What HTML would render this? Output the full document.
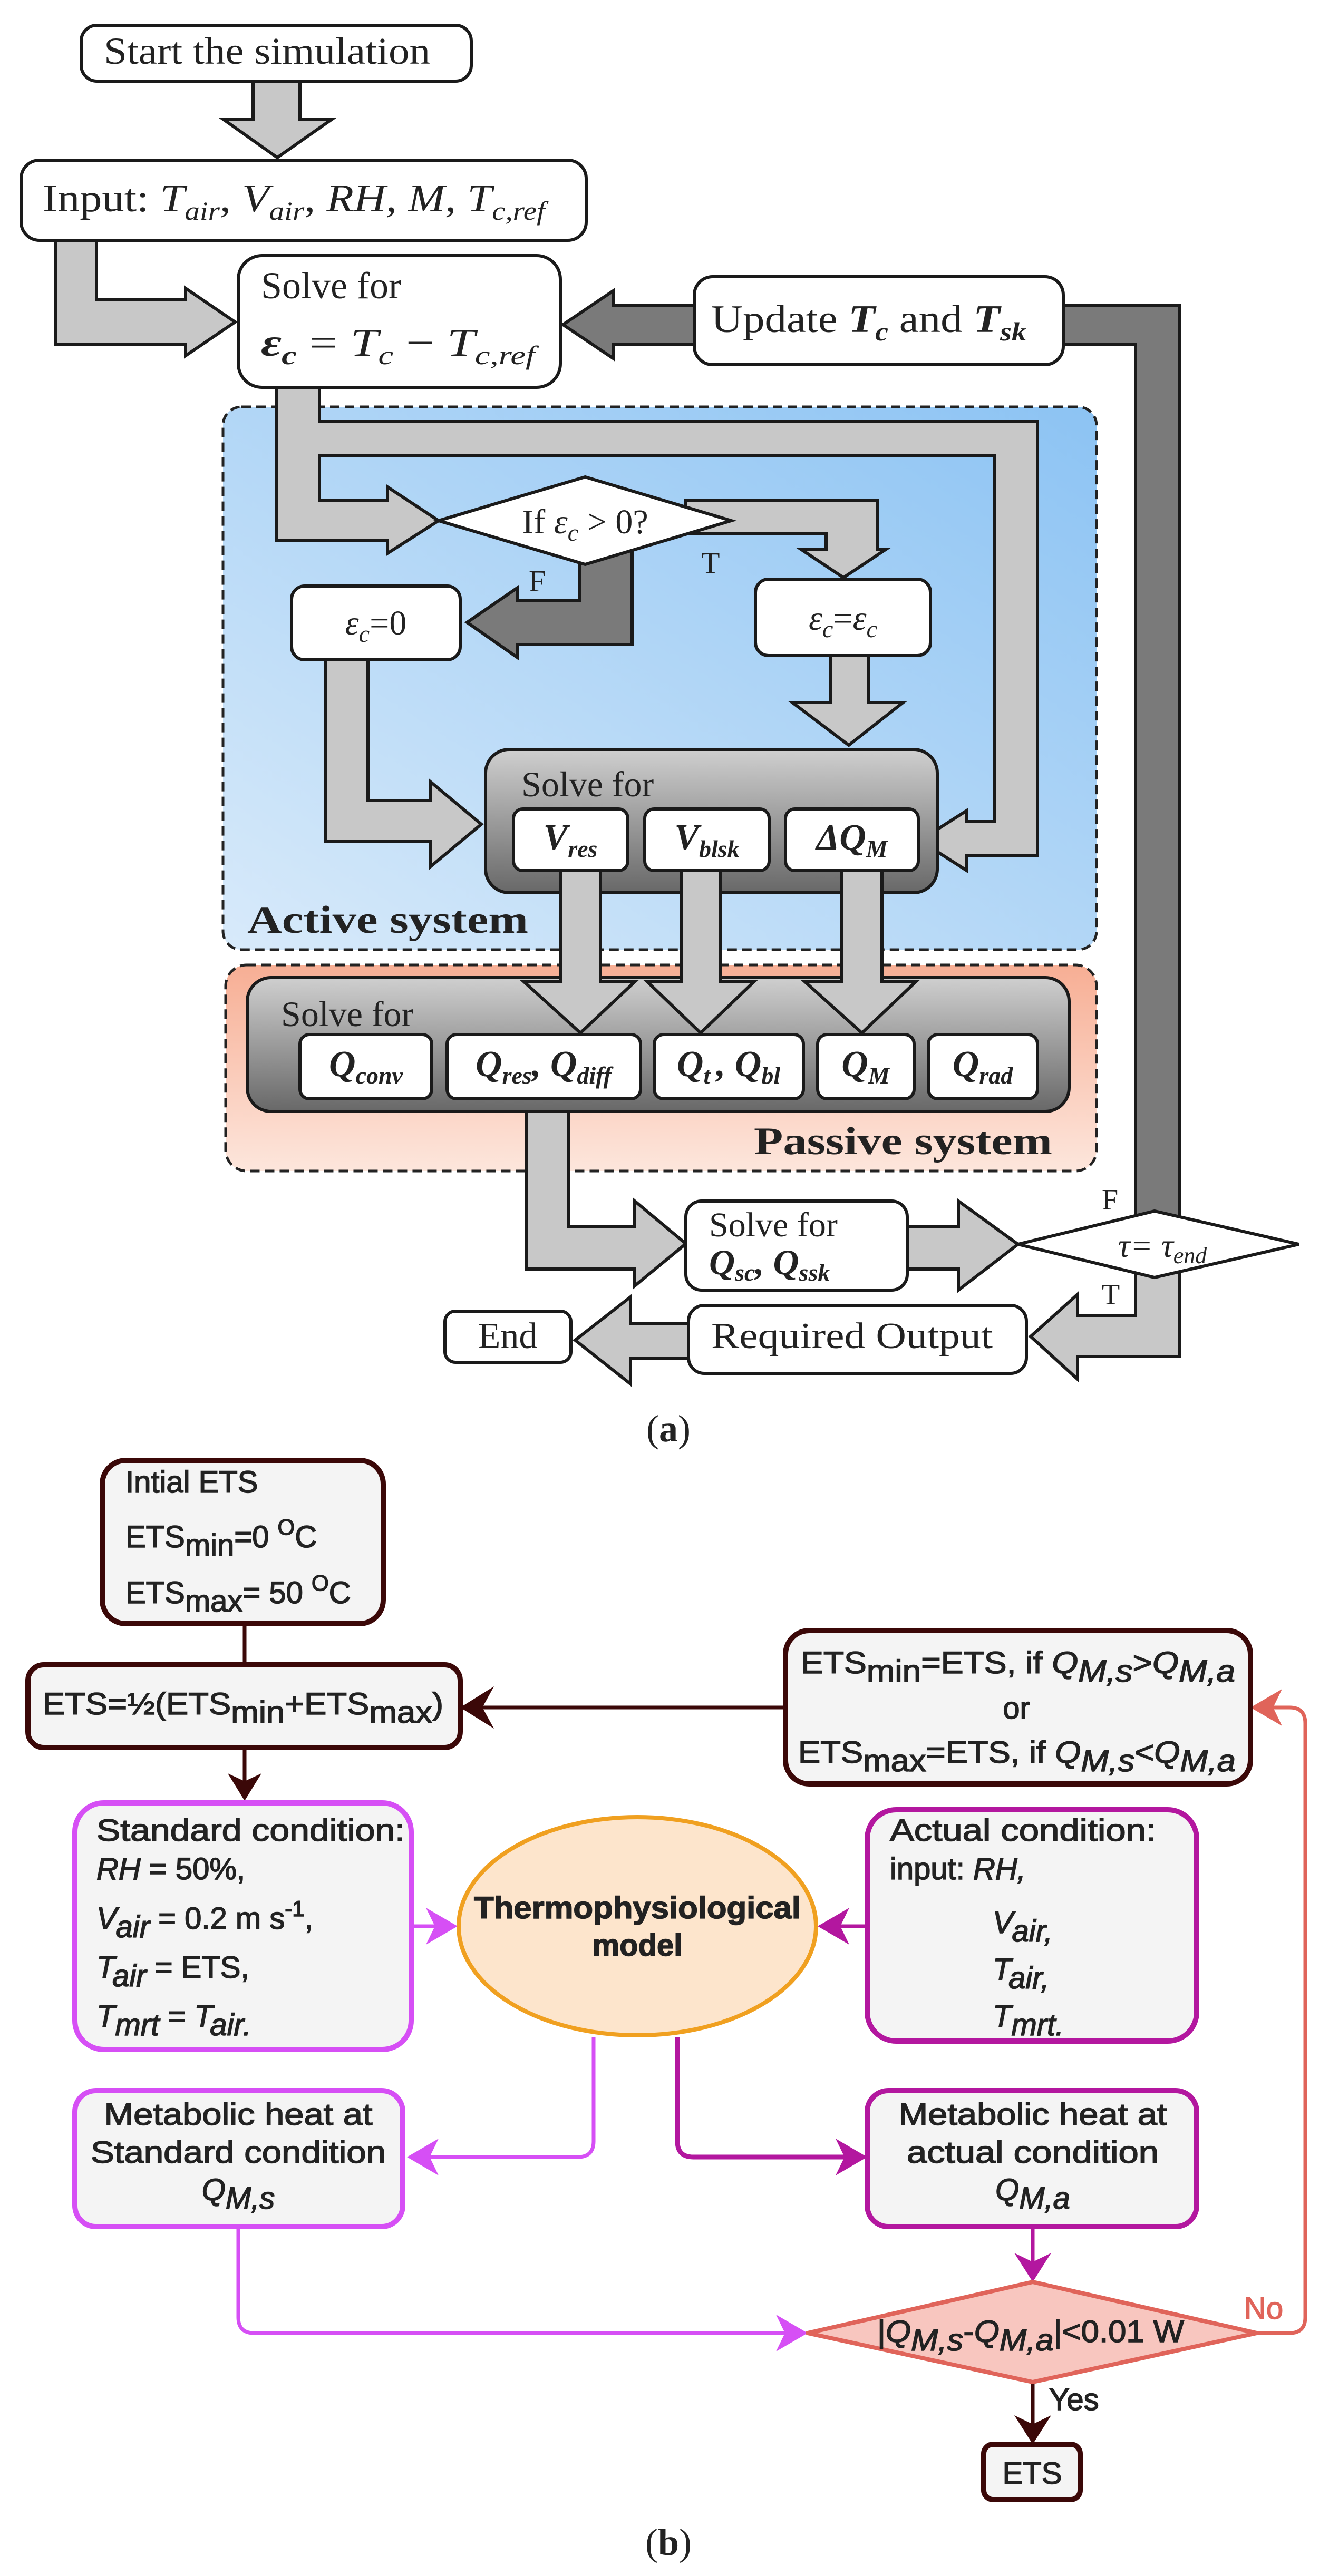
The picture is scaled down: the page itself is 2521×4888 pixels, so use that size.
<!DOCTYPE html>
<html><head><meta charset="utf-8"><style>
html,body{margin:0;padding:0;background:#fff}
svg{display:block}
.s{font-family:"Liberation Serif",serif}
.a{font-family:"Liberation Sans",sans-serif}
</style></head><body>
<svg width="2521" height="4888" viewBox="0 0 2521 4888" xmlns="http://www.w3.org/2000/svg">
<defs>
<linearGradient id="blue" x1="0" y1="1" x2="1" y2="0"><stop offset="0" stop-color="#d8eafa"/><stop offset="1" stop-color="#8cc3f3"/></linearGradient>
<linearGradient id="pink" x1="0" y1="0" x2="0" y2="1"><stop offset="0" stop-color="#f7ae94"/><stop offset="1" stop-color="#fde6dc"/></linearGradient>
<linearGradient id="gray" x1="0" y1="0" x2="0" y2="1"><stop offset="0" stop-color="#cfcfcf"/><stop offset="1" stop-color="#686868"/></linearGradient>
</defs>

<!-- ===== (a) ===== -->
<g class="s" fill="#222">
<rect x="423" y="772" width="1657" height="1030" rx="35" fill="url(#blue)" stroke="#222" stroke-width="5" stroke-dasharray="18 10"/>
<rect x="428" y="1831" width="1652" height="391" rx="40" fill="url(#pink)" stroke="#222" stroke-width="5" stroke-dasharray="18 10"/>

<g stroke="#1a1a1a" stroke-width="6" stroke-linejoin="miter">
<polygon fill="#c8c8c8" points="480,154 569,154 569,226 630,226 526,299 423,226 480,226"/>
<polygon fill="#c8c8c8" points="105,456 105,654 352,654 352,675 446,611 352,547 352,569 183,569 183,456"/>
<polygon fill="#7a7a7a" points="1317,579 1163,579 1163,552 1068,616 1163,680 1163,654 1317,654"/>
<polygon fill="#7a7a7a" points="2017,579 2238,579 2238,2320 2154,2320 2154,654 2017,654"/>
<polygon fill="#c8c8c8" points="525,735 525,1026 735,1026 735,1050 832,988 735,924 735,950 606,950 606,865 1887,865 1887,1559 1834,1559 1834,1538 1745,1595 1834,1652 1834,1624 1968,1624 1968,800 606,800 606,735"/>
<polygon fill="#c8c8c8" points="1300,950 1664,950 1664,1042 1681,1042 1600,1096 1519,1042 1567,1042 1567,1013 1300,1013"/>
<polygon fill="#7a7a7a" points="1099,1060 1099,1139 982,1139 982,1115 886,1181 982,1248 982,1223 1199,1223 1199,1040"/>
<polygon fill="#c8c8c8" points="1576,1244 1648,1244 1648,1333 1713,1333 1610,1414 1503,1333 1576,1333"/>
<polygon fill="#c8c8c8" points="617,1252 617,1597 816,1597 816,1645 913,1564 816,1483 816,1519 698,1519 698,1252"/>
<polygon fill="#c8c8c8" points="999,2109 999,2408 1204,2408 1204,2440 1301,2360 1204,2279 1204,2327 1079,2327 1079,2109"/>
<polygon fill="#c8c8c8" points="1721,2327 1818,2327 1818,2279 1931,2361 1818,2448 1818,2408 1721,2408"/>
<polygon fill="#c8c8c8" points="2154,2410 2154,2496 2044,2496 2044,2456 1955,2536 2044,2617 2044,2574 2238,2574 2238,2400"/>
<polygon fill="#c8c8c8" points="1306,2512 1196,2512 1196,2461 1091,2543 1196,2626 1196,2577 1306,2577"/>
</g>

<g fill="#fff" stroke="#1a1a1a" stroke-width="6">
<rect x="154" y="48" width="740" height="106" rx="30"/>
<rect x="40" y="304" width="1072" height="152" rx="35"/>
<rect x="452" y="485" width="611" height="250" rx="45"/>
<rect x="1317" y="525" width="700" height="167" rx="35"/>
<polygon points="832,988 1110,905 1387,988 1110,1071"/>
<rect x="553" y="1112" width="320" height="140" rx="25"/>
<rect x="1433" y="1099" width="332" height="145" rx="25"/>
<rect x="921" y="1422" width="857" height="272" rx="45" fill="url(#gray)"/>
<rect x="974" y="1535" width="217" height="117" rx="18"/>
<rect x="1223" y="1535" width="236" height="117" rx="18"/>
<rect x="1490" y="1535" width="252" height="117" rx="18"/>
<rect x="469" y="1855" width="1559" height="254" rx="45" fill="url(#gray)"/>
</g>
<g stroke="#1a1a1a" stroke-width="6" fill="#c8c8c8">
<polygon points="1063,1652 1139,1652 1139,1863 1204,1863 1101,1960 994,1863 1063,1863"/>
<polygon points="1293,1652 1366,1652 1366,1863 1430,1863 1329,1960 1228,1863 1293,1863"/>
<polygon points="1597,1652 1673,1652 1673,1863 1737,1863 1635,1960 1527,1863 1597,1863"/>
</g>
<g fill="#fff" stroke="#1a1a1a" stroke-width="6">
<rect x="569" y="1963" width="250" height="122" rx="18"/>
<rect x="848" y="1963" width="367" height="122" rx="18"/>
<rect x="1241" y="1963" width="283" height="122" rx="18"/>
<rect x="1551" y="1963" width="183" height="122" rx="18"/>
<rect x="1761" y="1963" width="207" height="122" rx="18"/>
<rect x="1301" y="2279" width="420" height="169" rx="30"/>
<polygon points="1931,2361 2190,2298 2464,2361 2190,2424"/>
<rect x="1306" y="2477" width="641" height="129" rx="30"/>
<rect x="844" y="2488" width="239" height="97" rx="20"/>
</g>

<text x="197" y="121" font-size="72" textLength="619" lengthAdjust="spacingAndGlyphs">Start the simulation</text>
<text x="81" y="401" font-size="74" textLength="953" lengthAdjust="spacingAndGlyphs">Input: <tspan font-style="italic">T</tspan><tspan font-style="italic" font-size="50" dy="16">air</tspan><tspan dy="-16">, </tspan><tspan font-style="italic">V</tspan><tspan font-style="italic" font-size="50" dy="16">air</tspan><tspan dy="-16">, </tspan><tspan font-style="italic">RH, M, T</tspan><tspan font-style="italic" font-size="50" dy="16">c,ref</tspan></text>
<text x="495" y="566" font-size="72">Solve for</text>
<text x="495" y="675" font-size="74" textLength="520" lengthAdjust="spacingAndGlyphs"><tspan font-weight="bold" font-style="italic">ε</tspan><tspan font-weight="bold" font-style="italic" font-size="50" dy="16">c</tspan><tspan dy="-16"> = </tspan><tspan font-style="italic">T</tspan><tspan font-style="italic" font-size="50" dy="16">c</tspan><tspan dy="-16"> − </tspan><tspan font-style="italic">T</tspan><tspan font-style="italic" font-size="50" dy="16">c,ref</tspan></text>
<text x="1349" y="630" font-size="74" textLength="598" lengthAdjust="spacingAndGlyphs">Update <tspan font-weight="bold" font-style="italic">T</tspan><tspan font-weight="bold" font-style="italic" font-size="50" dy="16">c</tspan><tspan dy="-16"> and </tspan><tspan font-weight="bold" font-style="italic">T</tspan><tspan font-weight="bold" font-style="italic" font-size="50" dy="16">sk</tspan></text>
<text x="1110" y="1012" font-size="66" text-anchor="middle">If <tspan font-style="italic">ε</tspan><tspan font-style="italic" font-size="46" dy="14">c</tspan><tspan dy="-14"> &gt; 0?</tspan></text>
<text x="1330" y="1088" font-size="58">T</text>
<text x="1003" y="1122" font-size="58">F</text>
<text x="713" y="1204" font-size="66" text-anchor="middle"><tspan font-style="italic">ε</tspan><tspan font-style="italic" font-size="46" dy="14">c</tspan><tspan dy="-14">=0</tspan></text>
<text x="1599" y="1195" font-size="66" text-anchor="middle"><tspan font-style="italic">ε</tspan><tspan font-style="italic" font-size="46" dy="14">c</tspan><tspan dy="-14">=</tspan><tspan font-style="italic">ε</tspan><tspan font-style="italic" font-size="46" dy="14">c</tspan></text>
<text x="989" y="1511" font-size="68">Solve for</text>
<g font-weight="bold" font-style="italic">
<text x="1082" y="1612" font-size="70" text-anchor="middle">V<tspan font-size="46" dy="14">res</tspan></text>
<text x="1341" y="1612" font-size="70" text-anchor="middle">V<tspan font-size="46" dy="14">blsk</tspan></text>
<text x="1616" y="1612" font-size="70" text-anchor="middle">ΔQ<tspan font-size="46" dy="14">M</tspan></text>
<text x="694" y="2042" font-size="70" text-anchor="middle">Q<tspan font-size="46" dy="14">conv</tspan></text>
<text x="1031" y="2042" font-size="70" text-anchor="middle">Q<tspan font-size="46" dy="14">res</tspan><tspan dy="-14">, Q</tspan><tspan font-size="46" dy="14">diff</tspan></text>
<text x="1382" y="2042" font-size="70" text-anchor="middle">Q<tspan font-size="46" dy="14">t </tspan><tspan dy="-14">, Q</tspan><tspan font-size="46" dy="14">bl</tspan></text>
<text x="1642" y="2042" font-size="70" text-anchor="middle">Q<tspan font-size="46" dy="14">M</tspan></text>
<text x="1864" y="2042" font-size="70" text-anchor="middle">Q<tspan font-size="46" dy="14">rad</tspan></text>
<text x="1345" y="2418" font-size="68">Q<tspan font-size="46" dy="12">sc</tspan><tspan dy="-12">, Q</tspan><tspan font-size="46" dy="12">ssk</tspan></text>
</g>
<text x="469" y="1770" font-size="74" font-weight="bold" textLength="533" lengthAdjust="spacingAndGlyphs">Active system</text>
<text x="533" y="1947" font-size="68">Solve for</text>
<text x="1430" y="2190" font-size="74" font-weight="bold" textLength="566" lengthAdjust="spacingAndGlyphs">Passive system</text>
<text x="1345" y="2346" font-size="66">Solve for</text>
<text x="2205" y="2385" font-size="64" text-anchor="middle" font-style="italic">τ= τ<tspan font-size="44" dy="12">end</tspan></text>
<text x="2090" y="2295" font-size="56">F</text>
<text x="2090" y="2475" font-size="56">T</text>
<text x="1349" y="2558" font-size="70" textLength="534" lengthAdjust="spacingAndGlyphs">Required Output</text>
<text x="963" y="2558" font-size="70" text-anchor="middle">End</text>
<text x="1268" y="2735" font-size="72" text-anchor="middle">(<tspan font-weight="bold">a</tspan>)</text>
</g>

<!-- ===== (b) ===== -->
<g class="a" fill="#222">
<g fill="none" stroke-width="7">
<line x1="464" y1="3081" x2="464" y2="3159" stroke="#3b0808"/>
<line x1="464" y1="3316" x2="464" y2="3380" stroke="#3b0808"/>
<line x1="1490" y1="3240" x2="900" y2="3240" stroke="#3b0808"/>
<line x1="780" y1="3655" x2="840" y2="3655" stroke="#d64ff5"/>
<line x1="1645" y1="3655" x2="1580" y2="3655" stroke="#b3179f"/>
<path d="M1126,3865 L1126,4063 Q1126,4093 1096,4093 L800,4093" stroke="#d64ff5"/>
<path d="M1285,3865 L1285,4063 Q1285,4093 1315,4093 L1610,4093" stroke="#b3179f" stroke-width="9"/>
<line x1="1959" y1="4225" x2="1959" y2="4295" stroke="#b3179f"/>
<path d="M452,4225 L452,4397 Q452,4427 482,4427 L1500,4427" stroke="#d64ff5"/>
<path d="M2384,4427 L2446,4427 Q2476,4427 2476,4397 L2476,3270 Q2476,3240 2446,3240 L2405,3240" stroke="#e0645a"/>
<line x1="1959" y1="4520" x2="1959" y2="4600" stroke="#3b0808"/>
</g>
<path d="M464,3417 L432,3365 L464,3380 L496,3365 Z" fill="#3b0808"/>
<path d="M873,3240 L937,3200 L915,3240 L937,3280 Z" fill="#3b0808"/>
<path d="M868,3655 L808,3620 L825,3655 L808,3690 Z" fill="#d64ff5"/>
<path d="M1551,3655 L1611,3620 L1594,3655 L1611,3690 Z" fill="#b3179f"/>
<path d="M772,4093 L832,4058 L815,4093 L832,4128 Z" fill="#d64ff5"/>
<path d="M1645,4093 L1585,4058 L1602,4093 L1585,4128 Z" fill="#b3179f"/>
<path d="M1959,4330 L1924,4275 L1959,4292 L1994,4275 Z" fill="#b3179f"/>
<path d="M1532,4427 L1472,4392 L1489,4427 L1472,4462 Z" fill="#d64ff5"/>
<path d="M2372,3240 L2432,3205 L2415,3240 L2432,3275 Z" fill="#e0645a"/>
<path d="M1959,4638 L1924,4583 L1959,4600 L1994,4583 Z" fill="#3b0808"/>

<g fill="#f4f4f4" stroke-width="10">
<rect x="194" y="2771" width="533" height="310" rx="45" stroke="#3b0808"/>
<rect x="53" y="3159" width="820" height="157" rx="30" stroke="#3b0808"/>
<rect x="1490" y="3094" width="882" height="291" rx="45" stroke="#3b0808"/>
<rect x="142" y="3421" width="638" height="468" rx="55" stroke="#d64ff5"/>
<rect x="1645" y="3434" width="625" height="439" rx="55" stroke="#b3179f"/>
<rect x="142" y="3967" width="622" height="258" rx="40" stroke="#d64ff5"/>
<rect x="1645" y="3967" width="625" height="258" rx="40" stroke="#b3179f"/>
<rect x="1866" y="4638" width="183" height="105" rx="18" stroke="#3b0808"/>
</g>
<ellipse cx="1209" cy="3655" rx="339" ry="207" fill="#fde5cc" stroke="#f0a020" stroke-width="8"/>
<polygon points="1532,4427 1959,4330 2384,4427 1959,4520" fill="#f8c6bf" stroke="#e0645a" stroke-width="8" stroke-linejoin="round"/>

<g font-size="58" stroke="#222" stroke-width="1.5">
<text x="238" y="2832">Intial ETS</text>
<text x="238" y="2936">ETS<tspan dy="16">min</tspan><tspan dy="-16">=0 </tspan><tspan font-size="42" dy="-24">O</tspan><tspan dy="24">C</tspan></text>
<text x="238" y="3042">ETS<tspan dy="16">max</tspan><tspan dy="-16">= 50 </tspan><tspan font-size="42" dy="-24">O</tspan><tspan dy="24">C</tspan></text>
<text x="81" y="3253" textLength="760" lengthAdjust="spacingAndGlyphs">ETS=½(ETS<tspan dy="16">min</tspan><tspan dy="-16">+ETS</tspan><tspan dy="16">max</tspan><tspan dy="-16">)</tspan></text>
<text x="1519" y="3175" textLength="824" lengthAdjust="spacingAndGlyphs">ETS<tspan dy="16">min</tspan><tspan dy="-16">=ETS, if </tspan><tspan font-style="italic">Q</tspan><tspan font-style="italic" dy="16">M,s</tspan><tspan dy="-16">&gt;</tspan><tspan font-style="italic">Q</tspan><tspan font-style="italic" dy="16">M,a</tspan></text>
<text x="1928" y="3261" text-anchor="middle">or</text>
<text x="1514" y="3345" textLength="830" lengthAdjust="spacingAndGlyphs">ETS<tspan dy="16">max</tspan><tspan dy="-16">=ETS, if </tspan><tspan font-style="italic">Q</tspan><tspan font-style="italic" dy="16">M,s</tspan><tspan dy="-16">&lt;</tspan><tspan font-style="italic">Q</tspan><tspan font-style="italic" dy="16">M,a</tspan></text>

<text x="183" y="3493" textLength="585" lengthAdjust="spacingAndGlyphs">Standard condition:</text>
<text x="183" y="3566"><tspan font-style="italic">RH</tspan> = 50%,</text>
<text x="183" y="3660"><tspan font-style="italic">V</tspan><tspan font-style="italic" dy="16">air</tspan><tspan dy="-16"> = 0.2 m s</tspan><tspan font-size="42" dy="-24">-1</tspan><tspan dy="24">,</tspan></text>
<text x="183" y="3753"><tspan font-style="italic">T</tspan><tspan font-style="italic" dy="16">air</tspan><tspan dy="-16"> = ETS,</tspan></text>
<text x="183" y="3846"><tspan font-style="italic">T</tspan><tspan font-style="italic" dy="16">mrt</tspan><tspan dy="-16"> = </tspan><tspan font-style="italic">T</tspan><tspan font-style="italic" dy="16">air.</tspan></text>

<text x="1209" y="3640" text-anchor="middle" font-weight="bold" textLength="620" lengthAdjust="spacingAndGlyphs">Thermophysiological</text>
<text x="1209" y="3711" text-anchor="middle" font-weight="bold">model</text>

<text x="1688" y="3493" textLength="505" lengthAdjust="spacingAndGlyphs">Actual condition:</text>
<text x="1688" y="3566">input: <tspan font-style="italic">RH,</tspan></text>
<text x="1883" y="3668" font-style="italic">V<tspan dy="16">air,</tspan></text>
<text x="1883" y="3757" font-style="italic">T<tspan dy="16">air,</tspan></text>
<text x="1883" y="3846" font-style="italic">T<tspan dy="16">mrt.</tspan></text>

<text x="452" y="4032" text-anchor="middle" textLength="509" lengthAdjust="spacingAndGlyphs">Metabolic heat at</text>
<text x="452" y="4104" text-anchor="middle" textLength="560" lengthAdjust="spacingAndGlyphs">Standard condition</text>
<text x="452" y="4175" text-anchor="middle" font-style="italic">Q<tspan dy="16">M,s</tspan></text>
<text x="1959" y="4032" text-anchor="middle" textLength="509" lengthAdjust="spacingAndGlyphs">Metabolic heat at</text>
<text x="1959" y="4104" text-anchor="middle" textLength="478" lengthAdjust="spacingAndGlyphs">actual condition</text>
<text x="1959" y="4175" text-anchor="middle" font-style="italic">Q<tspan dy="16">M,a</tspan></text>

<text x="1664" y="4444" textLength="582" lengthAdjust="spacingAndGlyphs">|<tspan font-style="italic">Q</tspan><tspan font-style="italic" dy="16">M,s</tspan><tspan dy="-16">-</tspan><tspan font-style="italic">Q</tspan><tspan font-style="italic" dy="16">M,a</tspan><tspan dy="-16">|&lt;0.01 W</tspan></text>
<text x="2360" y="4400" fill="#e0645a" stroke="#e0645a">No</text>
<text x="1990" y="4573">Yes</text>
<text x="1958" y="4713" text-anchor="middle">ETS</text>
</g>
<text x="1268" y="4848" class="s" font-size="72" text-anchor="middle">(<tspan font-weight="bold">b</tspan>)</text>
</g>
</svg>
</body></html>
